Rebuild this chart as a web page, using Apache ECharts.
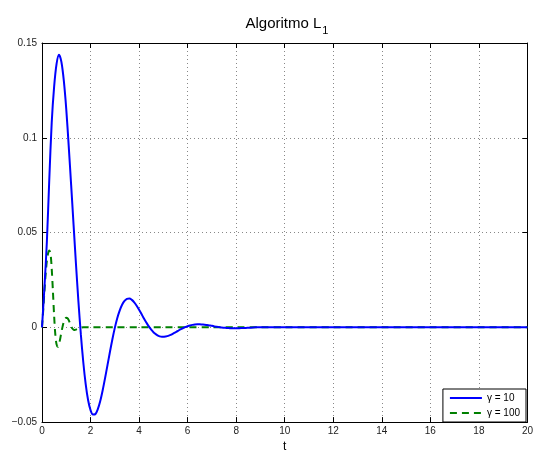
<!DOCTYPE html>
<html>
<head>
<meta charset="utf-8">
<script src="https://cdn.jsdelivr.net/npm/echarts@6/dist/echarts.min.js"></script>
<style>html,body{margin:0;padding:0;background:#fff}#c{width:536px;height:458px}</style>
</head>
<body>
<div id="c"></div>
<script>
// time samples and values for gamma = 10 (blue)
const tBlue = [0,0.1,0.2,0.3,0.4,0.5,0.6,0.7,0.8,0.9,1.0,1.1,1.2,1.3,1.4,1.5,1.6,1.7,1.8,1.9,2.0,2.1,2.2,2.3,2.4,2.5,2.6,2.7,2.8,2.9,3.0,3.1,3.2,3.3,3.4,3.5,3.6,3.7,3.8,3.9,4.0,4.1,4.2,4.3,4.4,4.5,4.6,4.7,4.8,4.9,5.0,5.1,5.2,5.3,5.4,5.5,5.6,5.7,5.8,5.9,6.0,6.1,6.2,6.3,6.4,6.5,6.6,6.7,6.8,6.9,7.0,7.1,7.2,7.3,7.4,7.5,7.6,7.7,7.8,7.9,8.0,8.2,8.4,8.6,8.8,9.0,9.5,10,11,12,13,14,15,16,17,18,19,20];
const yBlue = [0,0.021,0.045,0.078,0.108,0.127,0.139,0.1438,0.140,0.130,0.115,0.0957,0.0753,0.0542,0.0333,0.0137,-0.0036,-0.0183,-0.0300,-0.0385,-0.0437,-0.0460,-0.0458,-0.0432,-0.0389,-0.0332,-0.0267,-0.0198,-0.0129,-0.0063,-0.0003,0.0048,0.0088,0.0119,0.0139,0.0150,0.0152,0.0145,0.0132,0.0114,0.0093,0.0070,0.0046,0.0025,0.0005,-0.0012,-0.0027,-0.0037,-0.0045,-0.0049,-0.0050,-0.0048,-0.0045,-0.0040,-0.0033,-0.0026,-0.0019,-0.0011,-0.0005,0.0001,0.0006,0.0010,0.0013,0.0015,0.0016,0.0016,0.0015,0.0014,0.0012,0.0010,0.0008,0.0005,0.0003,0.0001,-0.0001,-0.0002,-0.0003,-0.0004,-0.0005,-0.0005,-0.0005,-0.0004,-0.0003,-0.0002,0,0.0001,0.0001,0,0,0,0,0,0,0,0,0,0,0];
// time samples and values for gamma = 100 (green dashed)
const tGreen = [0,0.05,0.1,0.15,0.2,0.25,0.3,0.35,0.4,0.45,0.5,0.55,0.6,0.65,0.7,0.75,0.8,0.85,0.9,0.95,1.0,1.05,1.1,1.15,1.2,1.25,1.3,1.35,1.4,1.5,1.6,1.7,1.8,2.0,3,4,5,6,7,8,9,10,12,14,16,18,20];
const yGreen = [0,0.009,0.019,0.028,0.035,0.039,0.0405,0.039,0.031,0.019,0.006,-0.004,-0.009,-0.0103,-0.009,-0.006,-0.0025,0.0005,0.003,0.0045,0.005,0.0048,0.0038,0.0022,0.0006,-0.0006,-0.0012,-0.0014,-0.0012,-0.0006,-0.0002,0.0001,0.0001,0,0,0,0,0,0,0,0,0,0,0,0,0,0];
const xTicks = {min:0, max:20, interval:2};
const yTicks = {min:-0.05, max:0.15, interval:0.05};
const legendNames = ['\u03b3 = 10', '\u03b3 = 100'];

const FONT = '"Liberation Sans", Arial, Helvetica, sans-serif';
const chart = echarts.init(document.getElementById('c'), null, {renderer:'canvas'});
const zip = (a,b)=>a.map((v,i)=>[v,b[i]]);
const fmtY = v => String(Math.round(v*100)/100).replace('-', '\u2212');
const axLine = {show:true, onZero:false, lineStyle:{color:'#000', width:1}};
const tick = {show:true, inside:true, length:5, lineStyle:{color:'#000'}};
chart.setOption({
  animation:false,
  backgroundColor:'#fff',
  title:{
    text:'{a|Algoritmo L}{b|1}',
    left:282, top:8, textAlign:'center',
    textStyle:{fontWeight:'normal', rich:{
      a:{fontFamily:FONT, fontSize:15, fontWeight:'normal', color:'#000', lineHeight:22},
      b:{fontFamily:FONT, fontSize:11, fontWeight:'normal', color:'#000', padding:[14,0,0,1], lineHeight:22}
    }}
  },
  grid:{left:42, right:6, top:43, bottom:31, containLabel:false},
  legend:{
    orient:'vertical', right:10, bottom:36,
    data:legendNames,
    backgroundColor:'#fff', borderColor:'#000', borderWidth:1,
    padding:[4,6,4,6], itemGap:5, itemWidth:32, itemHeight:10,
    itemStyle:{opacity:0},
    textStyle:{fontFamily:FONT, fontSize:10, color:'#000'}
  },
  xAxis:[
    {type:'value', min:xTicks.min, max:xTicks.max, interval:xTicks.interval, position:'bottom',
     name:'t', nameLocation:'middle', nameGap:17, nameTextStyle:{fontFamily:FONT, fontSize:12, color:'#000'},
     axisLine:axLine, axisTick:tick,
     axisLabel:{fontFamily:FONT, fontSize:10, color:'#222', margin:4},
     splitLine:{show:true, lineStyle:{color:'#888', type:[1,3], width:1}}},
    {type:'value', min:xTicks.min, max:xTicks.max, interval:xTicks.interval, position:'top',
     axisLine:axLine, axisTick:tick, axisLabel:{show:false}, splitLine:{show:false}}
  ],
  yAxis:[
    {type:'value', min:yTicks.min, max:yTicks.max, interval:yTicks.interval, position:'left',
     axisLine:axLine, axisTick:tick,
     axisLabel:{fontFamily:FONT, fontSize:10, color:'#222', margin:5, formatter:fmtY},
     splitLine:{show:true, lineStyle:{color:'#888', type:[1,3], width:1}}},
    {type:'value', min:yTicks.min, max:yTicks.max, interval:yTicks.interval, position:'right',
     axisLine:axLine, axisTick:tick, axisLabel:{show:false}, splitLine:{show:false}}
  ],
  series:[
    {name:legendNames[0], type:'line', data:zip(tBlue,yBlue), symbol:'none', smooth:0.3,
     lineStyle:{color:'#0000ff', width:2}, itemStyle:{color:'#0000ff'}, z:3},
    {name:legendNames[1], type:'line', data:zip(tGreen,yGreen), symbol:'none', smooth:0.3,
     lineStyle:{color:'#008000', width:2, type:[7,5]}, itemStyle:{color:'#008000'}, z:2}
  ]
});
</script>
</body>
</html>
